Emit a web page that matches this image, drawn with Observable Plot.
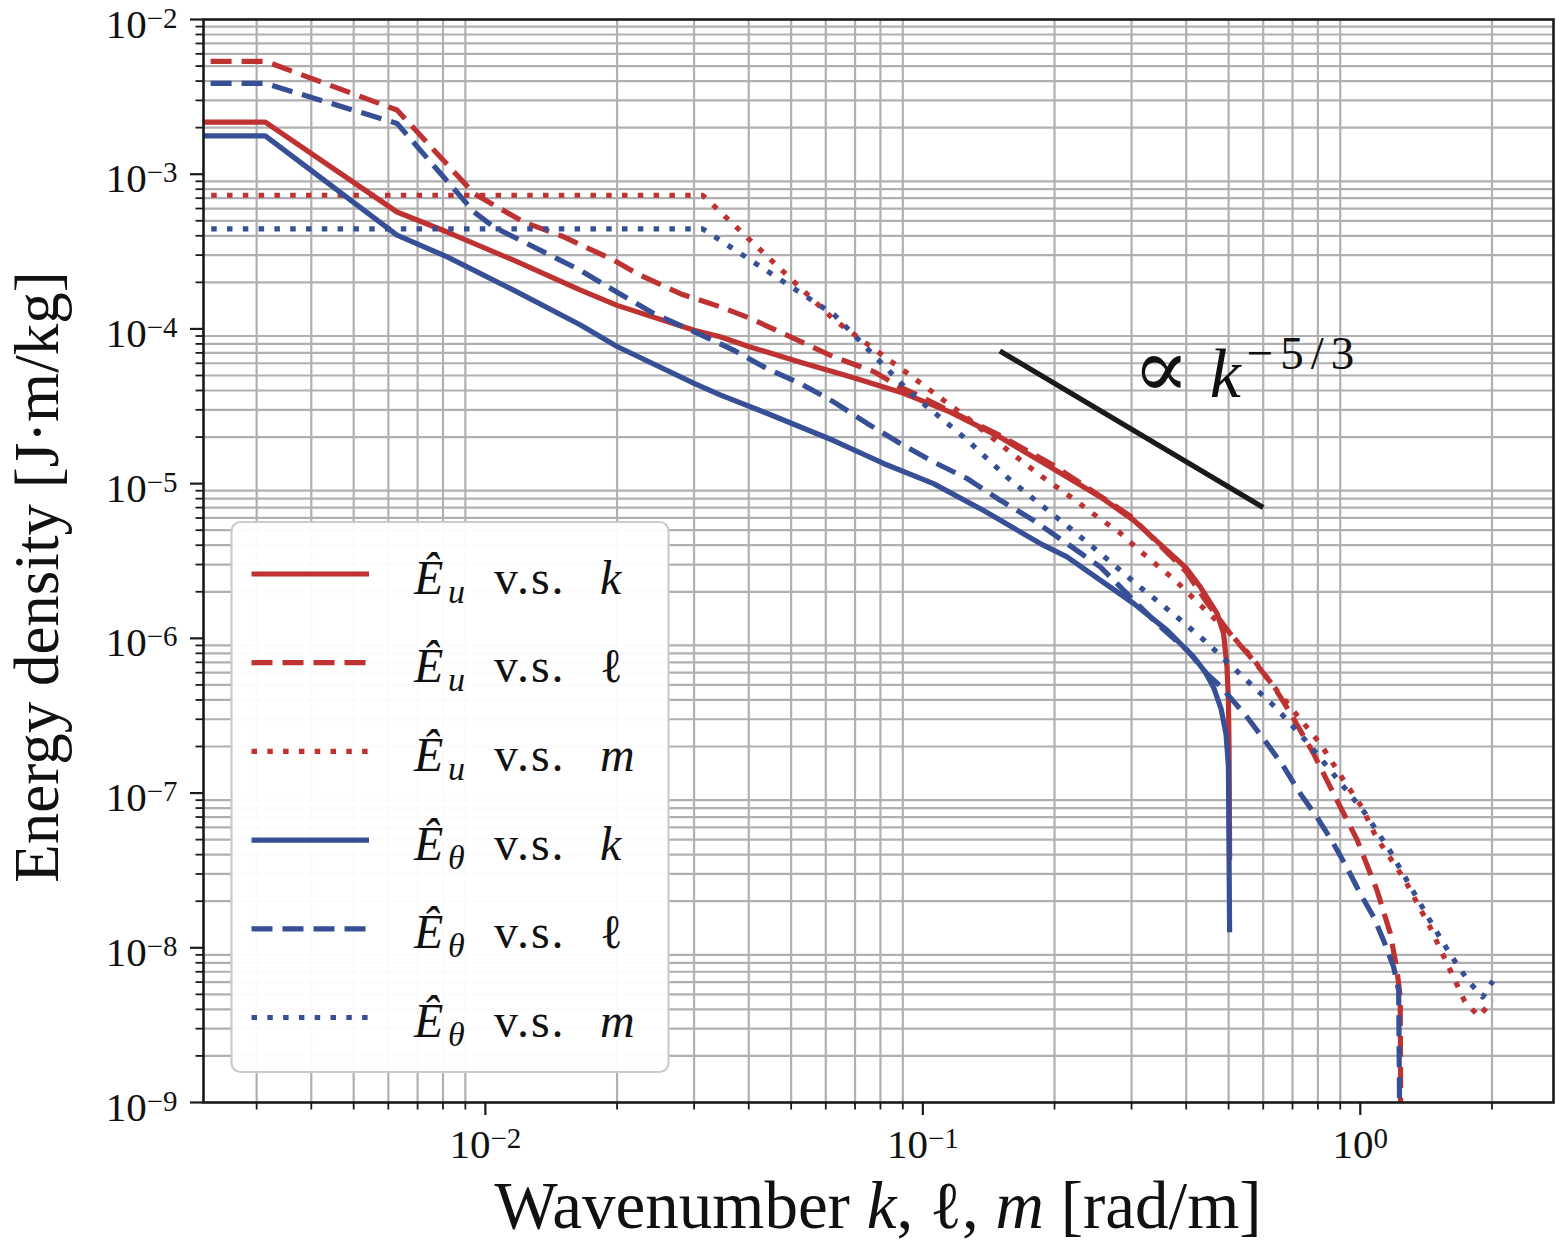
<!DOCTYPE html>
<html>
<head>
<meta charset="utf-8">
<script src="https://cdn.jsdelivr.net/npm/d3@7"></script>
<script src="https://cdn.jsdelivr.net/npm/@observablehq/plot@0.6"></script>
<style>
  html, body { margin: 0; padding: 0; background: #fff; }
  #wrap { position: relative; width: 1556px; height: 1244px; overflow: hidden; background: #fff; }
  #wrap > svg { position: absolute; left: 0; top: 0; }
</style>
</head>
<body>
<div id="wrap"></div>
<script>
// ---------------- data ----------------
// Ê_u vs k (red solid)
const euK_x = [0.002, 0.00314, 0.00628, 0.00818, 0.0116, 0.0165, 0.020, 0.030, 0.0344, 0.0403, 0.0525, 0.0683, 0.0889, 0.1156, 0.150, 0.1956, 0.2545, 0.3034, 0.3614, 0.4000, 0.4308, 0.4705, 0.487, 0.4958, 0.4995, 0.5012, 0.5027];
const euK_y = [2.17e-3, 2.17e-3, 5.7e-4, 4.23e-4, 2.78e-4, 1.78e-4, 1.42e-4, 9.8e-5, 8.9e-5, 7.65e-5, 6.1e-5, 4.9e-5, 3.9e-5, 2.9e-5, 2.0e-5, 1.28e-5, 8.2e-6, 5.8e-6, 3.7e-6, 2.85e-6, 2.15e-6, 1.45e-6, 1.07e-6, 6.5e-7, 4.0e-7, 2.0e-7, 3.7e-8];
// Ê_u vs l (red dashed)
const euL_x = [0.002, 0.00314, 0.00628, 0.00942, 0.01224, 0.0151, 0.01965, 0.0226, 0.0279, 0.0344, 0.0403, 0.0481, 0.0625, 0.0772, 0.0888, 0.100, 0.150, 0.200, 0.300, 0.400, 0.4463, 0.5045, 0.570, 0.634, 0.692, 0.782, 0.869, 0.983, 1.092, 1.171, 1.213, 1.234, 1.245];
const euL_y = [5.37e-3, 5.37e-3, 2.6e-3, 7.5e-4, 4.9e-4, 3.94e-4, 2.78e-4, 2.22e-4, 1.69e-4, 1.39e-4, 1.17e-4, 9.3e-5, 6.6e-5, 5.3e-5, 4.2e-5, 3.6e-5, 2.05e-5, 1.3e-5, 6.1e-6, 2.7e-6, 1.7e-6, 1.07e-6, 7.2e-7, 4.9e-7, 3.3e-7, 1.8e-7, 9.9e-8, 5.0e-8, 2.35e-8, 1.24e-8, 7.2e-9, 4.8e-9, 1e-11];
// Ê_u vs m (red dotted)
const euM_x = [0.002, 0.0314, 0.0628, 0.0942, 0.1257, 0.157, 0.188, 0.22, 0.251, 0.283, 0.314, 0.377, 0.44, 0.503, 0.565, 0.628, 0.7226, 0.81, 0.916, 1.009, 1.087, 1.263, 1.438, 1.58, 1.733, 1.867, 2.01];
const euM_y = [7.31e-4, 7.31e-4, 1.14e-4, 4.94e-5, 2.69e-5, 1.63e-5, 1.10e-5, 8.05e-6, 6.08e-6, 4.78e-6, 3.66e-6, 2.38e-6, 1.55e-6, 1.08e-6, 7.55e-7, 5.06e-7, 3.1e-7, 2.09e-7, 1.21e-7, 8.1e-8, 5.2e-8, 2.76e-8, 1.39e-8, 7.9e-9, 4.5e-9, 3.6e-9, 4.6e-9];
// Ê_θ vs k (blue solid)
const etK_x = [0.002, 0.00314, 0.00628, 0.00818, 0.0116, 0.0165, 0.020, 0.030, 0.0344, 0.044, 0.0625, 0.0813, 0.1058, 0.1377, 0.1856, 0.2136, 0.3034, 0.3614, 0.4159, 0.4430, 0.4622, 0.4807, 0.4933, 0.4995, 0.5027];
const etK_y = [1.77e-3, 1.77e-3, 4.04e-4, 2.92e-4, 1.78e-4, 1.06e-4, 7.7e-5, 4.45e-5, 3.75e-5, 2.85e-5, 1.9e-5, 1.35e-5, 1.0e-5, 6.7e-6, 4.1e-6, 3.36e-6, 1.68e-6, 1.13e-6, 7.6e-7, 6.0e-7, 4.8e-7, 3.5e-7, 2.4e-7, 1.5e-7, 1.26e-8];
// Ê_θ vs l (blue dashed)
const etL_x = [0.002, 0.00314, 0.00628, 0.00942, 0.01045, 0.01384, 0.0165, 0.01965, 0.02425, 0.030, 0.0369, 0.044, 0.0525, 0.0625, 0.0746, 0.0888, 0.1058, 0.1262, 0.1504, 0.179, 0.2136, 0.2545, 0.3034, 0.349, 0.4018, 0.4463, 0.4807, 0.5508, 0.612, 0.668, 0.7296, 0.796, 0.869, 0.932, 1.0, 1.073, 1.13, 1.192, 1.224, 1.245];
const etL_y = [3.86e-3, 3.86e-3, 2.13e-3, 5.7e-4, 4.56e-4, 3.07e-4, 2.39e-4, 1.78e-4, 1.26e-4, 9.6e-5, 7.3e-5, 5.55e-5, 4.44e-5, 3.38e-5, 2.45e-5, 1.82e-5, 1.38e-5, 1.08e-5, 7.8e-6, 5.8e-6, 4.1e-6, 2.9e-6, 1.76e-6, 1.19e-6, 8.4e-7, 5.9e-7, 4.85e-7, 3.1e-7, 2.09e-7, 1.48e-7, 9.9e-8, 7.0e-8, 4.7e-8, 3.3e-8, 2.24e-8, 1.58e-8, 1.12e-8, 7.5e-9, 5.3e-9, 1e-11];
// Ê_θ vs m (blue dotted)
const etM_x = [0.002, 0.0314, 0.0628, 0.0942, 0.1257, 0.157, 0.188, 0.22, 0.251, 0.283, 0.314, 0.377, 0.44, 0.503, 0.565, 0.639, 0.7552, 0.885, 1.0266, 1.171, 1.335, 1.466, 1.609, 1.766, 1.904, 2.01];
const etM_y = [4.43e-4, 4.43e-4, 1.23e-4, 3.81e-5, 1.94e-5, 1.08e-5, 7.14e-6, 5.0e-6, 3.66e-6, 2.75e-6, 2.14e-6, 1.41e-6, 9.7e-7, 6.8e-7, 4.98e-7, 3.6e-7, 2.14e-7, 1.24e-7, 7.4e-8, 4.2e-8, 2.2e-8, 1.39e-8, 9.0e-9, 6.1e-9, 4.8e-9, 6.1e-9];

// k^(-5/3) reference segment
const refX = [0.15, 0.6];
const refY = [7.2e-5, 7.0e-6];
// annotation anchor
const annotX = [0.302];
const annotY = [3.62e-5];

// legend labels
const legendSub = ["u", "u", "u", "θ", "θ", "θ"];
const legendVar = ["k", "ℓ", "m", "k", "ℓ", "m"];

// axes
const xDomain = [0.002268, 2.765];
const yDomain = [1e-9, 1e-2];
const xMajorTicks = [0.01, 0.1, 1];
const yMajorTicks = [1e-9, 1e-8, 1e-7, 1e-6, 1e-5, 1e-4, 1e-3, 1e-2];
const xMinorTicks = [0.003, 0.004, 0.005, 0.006, 0.007, 0.008, 0.009,
  0.02, 0.03, 0.04, 0.05, 0.06, 0.07, 0.08, 0.09,
  0.2, 0.3, 0.4, 0.5, 0.6, 0.7, 0.8, 0.9, 2];
const yMinorMult = [2, 3, 4, 5, 6, 7, 8, 9];
const yMinorTicks = yMajorTicks.slice(0, -1).flatMap(d => yMinorMult.map(m => m * d));
const xTitle = "Wavenumber";
const yTitle = "Energy density [J·m/kg]";

// ---------------- styles ----------------
const FONT = "'Liberation Serif', 'DejaVu Serif', serif";
const RED = "#bf3232";
const BLUE = "#364f95";
const seriesX = [euK_x, euL_x, euM_x, etK_x, etL_x, etM_x];
const seriesY = [euK_y, euL_y, euM_y, etK_y, etL_y, etM_y];
const seriesColor = [RED, RED, RED, BLUE, BLUE, BLUE];
const DASH = "21,10", DOT = "5.5,10.3";
const seriesDash = [null, DASH, DOT, null, DASH, DOT];
const LW = 5.2;
const GRID = "#b0b0b0";

const lineMarks = seriesX.map((xs, i) =>
  Plot.line(xs.map((x, j) => ({x, y: seriesY[i][j]})), {
    x: "x", y: "y", stroke: seriesColor[i], strokeWidth: LW,
    strokeDasharray: seriesDash[i] || undefined,
    strokeLinejoin: "round", strokeLinecap: "butt", clip: true
  })
);

const expLabel = d => "10^" + Math.round(Math.log10(d));

const chart = Plot.plot({
  width: 1556, height: 1244,
  marginLeft: 203, marginRight: 3, marginTop: 19, marginBottom: 142,
  style: {fontFamily: FONT, fontSize: "40px", color: "#111", background: "white"},
  x: {type: "log", domain: xDomain},
  y: {type: "log", domain: yDomain},
  marks: [
    Plot.gridX(xMinorTicks, {stroke: GRID, strokeOpacity: 1, strokeWidth: 2.2}),
    Plot.gridY(yMinorTicks, {stroke: GRID, strokeOpacity: 1, strokeWidth: 2.2}),
    ...lineMarks,
    Plot.line(refX.map((x, j) => ({x, y: refY[j]})), {x: "x", y: "y", stroke: "#1a1a1a", strokeWidth: LW, strokeLinecap: "butt"}),
    Plot.text(annotX.map((x, j) => ({x, y: annotY[j]})), {x: "x", y: "y", text: () => "ANNOT", textAnchor: "start", lineAnchor: "bottom", fontSize: 70}),
    Plot.frame({stroke: "#1a1a1a", strokeWidth: 2.6}),
    Plot.axisX(xMajorTicks, {tickSize: 13, tickFormat: () => "", stroke: "#1a1a1a", strokeWidth: 2.2, label: null}),
    Plot.axisX(xMinorTicks, {tickSize: 7.5, tickFormat: () => "", stroke: "#1a1a1a", strokeWidth: 1.8, label: null}),
    Plot.axisY(yMajorTicks, {tickSize: 13, tickFormat: () => "", stroke: "#1a1a1a", strokeWidth: 2.2, label: null}),
    Plot.axisY(yMinorTicks, {tickSize: 7.5, tickFormat: () => "", stroke: "#1a1a1a", strokeWidth: 1.8, label: null}),
    Plot.text(xMajorTicks, {x: d => d, frameAnchor: "bottom", dy: 55, text: expLabel, textAnchor: "middle", lineAnchor: "bottom", fontSize: 41}),
    Plot.text(yMajorTicks, {y: d => d, frameAnchor: "left", dx: -26, dy: 18, text: expLabel, textAnchor: "end", lineAnchor: "bottom", fontSize: 41})
  ]
});

const NS = "http://www.w3.org/2000/svg";
function tspan(parent, txt, attrs) {
  const t = document.createElementNS(NS, "tspan");
  for (const k in (attrs || {})) t.setAttribute(k, attrs[k]);
  t.textContent = txt;
  parent.appendChild(t);
  return t;
}
d3.select(chart).selectAll("text").each(function () {
  const s = this.textContent;
  const m = /^10\^(-?\d+)$/.exec(s);
  if (m) {
    this.textContent = "";
    tspan(this, "10");
    tspan(this, m[1].replace("-", "\u2212"), {dy: -10, "font-size": 29});
  } else if (s === "ANNOT") {
    this.textContent = "";
    tspan(this, "\u221D", {"font-size": 84});
    tspan(this, "k", {"font-style": "italic", dx: 20});
    tspan(this, "\u22125/3", {dy: -28, "font-size": 47, "letter-spacing": 7, dx: 6});
  }
});

const wrap = document.getElementById("wrap");
wrap.appendChild(chart);

// ---------------- overlay: legend + axis titles ----------------
const ov = d3.create("svg").attr("width", 1556).attr("height", 1244)
  .attr("viewBox", "0 0 1556 1244").style("font-family", FONT).style("pointer-events", "none");

// legend box
ov.append("rect").attr("x", 231.5).attr("y", 522).attr("width", 437).attr("height", 550)
  .attr("rx", 9).attr("fill", "white").attr("fill-opacity", 0.95)
  .attr("stroke", "#cccccc").attr("stroke-width", 2.2);
const rowY0 = 574, rowDy = 88.7;
legendSub.forEach((sub, i) => {
  const ry = rowY0 + i * rowDy;
  ov.append("line").attr("x1", 251.5).attr("x2", 369).attr("y1", ry).attr("y2", ry)
    .attr("stroke", seriesColor[i]).attr("stroke-width", LW)
    .attr("stroke-dasharray", seriesDash[i] || null).attr("stroke-linecap", "butt");
  const t = ov.append("text").attr("y", ry + 19.5).attr("font-size", 48).attr("fill", "#111").node();
  tspan(t, "Ê", {x: 414, "font-style": "italic"});
  tspan(t, sub, {x: 448, dy: 9, "font-size": 34, "font-style": "italic"});
  tspan(t, "v.s.", {x: 494, dy: -9, "letter-spacing": 2});
  tspan(t, legendVar[i], {x: 600, "font-style": legendVar[i] === "ℓ" ? "normal" : "italic"});
});

// x title
const xt = ov.append("text").attr("x", 878).attr("y", 1228).attr("text-anchor", "middle")
  .attr("font-size", 67).attr("fill", "#111").node();
tspan(xt, xTitle + " ");
tspan(xt, "k", {"font-style": "italic"});
tspan(xt, ", \u2113, ");
tspan(xt, "m", {"font-style": "italic"});
tspan(xt, " [rad/m]");

// y title
ov.append("text").attr("transform", "translate(58,577) rotate(-90)").attr("text-anchor", "middle")
  .attr("font-size", 63).attr("fill", "#111").text(yTitle);

wrap.appendChild(ov.node());
</script>
</body>
</html>
